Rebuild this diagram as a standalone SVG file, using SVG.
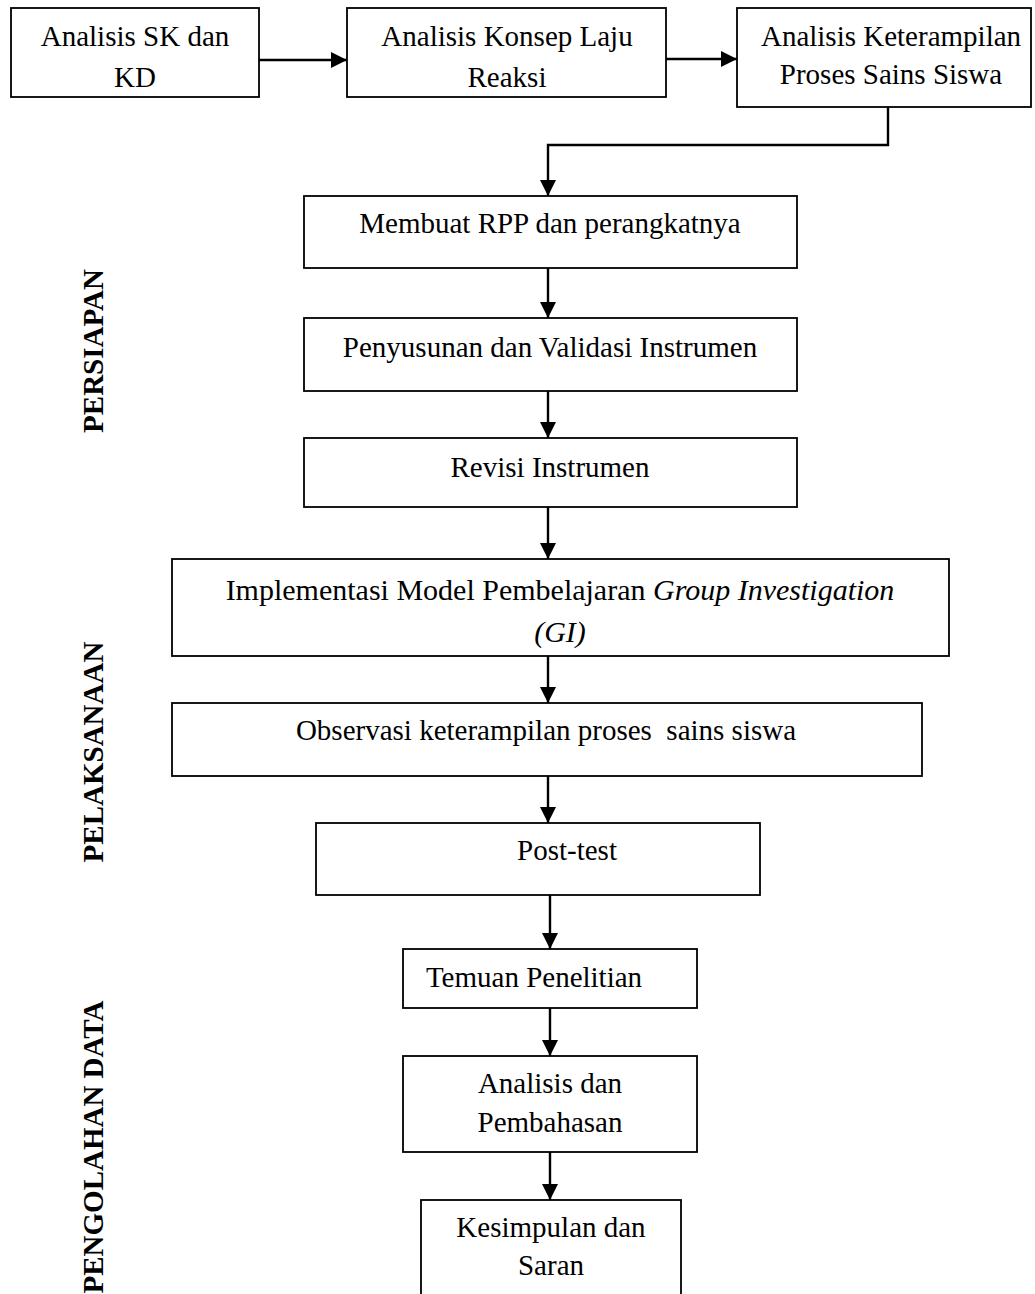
<svg xmlns="http://www.w3.org/2000/svg" width="1035" height="1294" viewBox="0 0 1035 1294">
<defs>
<style>
.box{fill:#fff;stroke:#000;stroke-width:1.8}
.t{font-family:"Liberation Serif","Times New Roman",serif;font-size:29px;fill:#000;text-anchor:middle;white-space:pre}
.i{font-style:italic}
.side{font-family:"Liberation Serif","Times New Roman",serif;font-size:29px;font-weight:bold;fill:#000;text-anchor:middle}
.c{fill:none;stroke:#000;stroke-width:2.4;marker-end:url(#ah)}
</style>
<marker id="ah" markerUnits="userSpaceOnUse" markerWidth="16" markerHeight="16" refX="16" refY="8" orient="auto">
<path d="M0,0 L16,8 L0,16 z" fill="#000"/>
</marker>
</defs>
<rect width="1035" height="1294" fill="#fff"/>

<g id="connectors">
<line class="c" x1="259" y1="60" x2="347" y2="60"/>
<line class="c" x1="666" y1="59" x2="737" y2="59"/>
<polyline class="c" points="888,107 888,145 548,145 548,196"/>
<line class="c" x1="548" y1="268" x2="548" y2="318"/>
<line class="c" x1="548" y1="391" x2="548" y2="438"/>
<line class="c" x1="548" y1="507" x2="548" y2="559"/>
<line class="c" x1="548" y1="656" x2="548" y2="703"/>
<line class="c" x1="548" y1="776" x2="548" y2="823"/>
<line class="c" x1="550" y1="895" x2="550" y2="949"/>
<line class="c" x1="550" y1="1008" x2="550" y2="1056"/>
<line class="c" x1="550" y1="1152" x2="550" y2="1200"/>
</g>

<g id="n1">
<rect class="box" x="11" y="8" width="248" height="89"/>
<text class="t" x="135" y="46">Analisis SK dan</text>
<text class="t" x="135" y="87">KD</text>
</g>
<g id="n2">
<rect class="box" x="347" y="8" width="319" height="89"/>
<text class="t" x="507" y="46">Analisis Konsep Laju</text>
<text class="t" x="507" y="87">Reaksi</text>
</g>
<g id="n3">
<rect class="box" x="737" y="8" width="294" height="99"/>
<text class="t" x="891" y="46">Analisis Keterampilan</text>
<text class="t" x="891" y="84">Proses Sains Siswa</text>
</g>
<g id="n4">
<rect class="box" x="304" y="196" width="493" height="72"/>
<text class="t" x="550" y="233">Membuat RPP dan perangkatnya</text>
</g>
<g id="n5">
<rect class="box" x="304" y="318" width="493" height="73"/>
<text class="t" x="550" y="357">Penyusunan dan Validasi Instrumen</text>
</g>
<g id="n6">
<rect class="box" x="304" y="438" width="493" height="69"/>
<text class="t" x="550" y="477">Revisi Instrumen</text>
</g>
<g id="n7">
<rect class="box" x="172" y="559" width="777" height="97"/>
<text class="t" x="560" y="600" style="font-size:30px">Implementasi Model Pembelajaran <tspan class="i">Group Investigation</tspan></text>
<text class="t i" x="560" y="642" style="font-size:30px">(GI)</text>
</g>
<g id="n8">
<rect class="box" x="172" y="703" width="750" height="73"/>
<text class="t" x="546" y="740">Observasi keterampilan proses  sains siswa</text>
</g>
<g id="n9">
<rect class="box" x="316" y="823" width="444" height="72"/>
<text class="t" x="567" y="860">Post-test</text>
</g>
<g id="n10">
<rect class="box" x="403" y="949" width="294" height="59"/>
<text class="t" x="534" y="987">Temuan Penelitian</text>
</g>
<g id="n11">
<rect class="box" x="403" y="1056" width="294" height="96"/>
<text class="t" x="550" y="1093">Analisis dan</text>
<text class="t" x="550" y="1132">Pembahasan</text>
</g>
<g id="n12">
<rect class="box" x="421" y="1200" width="260" height="110"/>
<text class="t" x="551" y="1237">Kesimpulan dan</text>
<text class="t" x="551" y="1275">Saran</text>
</g>

<g id="labels">
<text class="side" transform="translate(103,351) rotate(-90)">PERSIAPAN</text>
<text class="side" transform="translate(103,752) rotate(-90)">PELAKSANAAN</text>
<text class="side" transform="translate(103,1147) rotate(-90)">PENGOLAHAN DATA</text>
</g>
</svg>
